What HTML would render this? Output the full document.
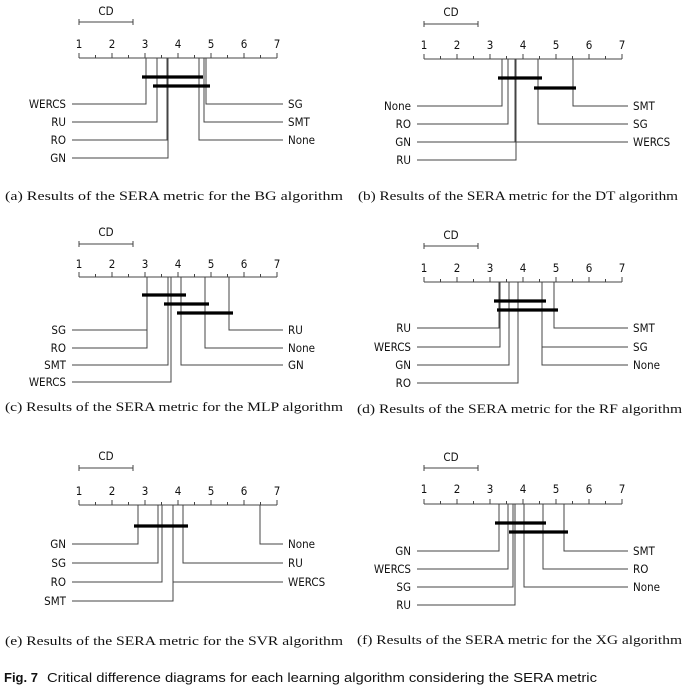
<!DOCTYPE html>
<html><head><meta charset="utf-8"><style>
html,body{margin:0;padding:0;background:#fff;width:691px;height:694px;overflow:hidden}
svg{display:block}
.lb{font-family:"DejaVu Sans Condensed","Liberation Sans Narrow","Liberation Sans",sans-serif;font-size:11.5px;fill:#111}
.cap{font-family:"Liberation Serif",serif;font-size:12.5px;fill:#111}
.g{stroke:#444;stroke-width:1;fill:none}
.b{stroke:#000;stroke-width:3.2}
</style></head><body>
<svg width="691" height="694" viewBox="0 0 691 694" xmlns="http://www.w3.org/2000/svg">
<defs>
<g id="ax">
<path class="g" d="M79 0H277 M79 0v-5 M112 0v-5 M145 0v-5 M178 0v-5 M211 0v-5 M244 0v-5 M277 0v-5 M95.5 0v-3 M128.5 0v-3 M161.5 0v-3 M194.5 0v-3 M227.5 0v-3 M260.5 0v-3"/>
</g>
<g id="ticks" class="lb" text-anchor="middle">
<text x="79" y="0">1</text><text x="112" y="0">2</text><text x="145" y="0">3</text><text x="178" y="0">4</text><text x="211" y="0">5</text><text x="244" y="0">6</text><text x="277" y="0">7</text>
</g>
</defs>

<!-- Panel a -->
<g>
<text class="lb" x="106" y="15" text-anchor="middle">CD</text>
<path class="g" d="M79 22H133M79 19v6M133 19v6"/>
<use href="#ticks" y="48"/>
<use href="#ax" y="58"/>
<path class="g" d="M146 58V104H72 M157 58V122H72 M167 58V140H72 M168 58V158H72 M206 58V104H283 M204 58V122H283 M199 58V140H283"/>
<line class="b" x1="142" y1="77" x2="203" y2="77"/><line class="b" x1="153" y1="86" x2="210" y2="86"/>
<g class="lb" text-anchor="end"><text x="66" y="108">WERCS</text><text x="66" y="126">RU</text><text x="66" y="144">RO</text><text x="66" y="162">GN</text></g>
<g class="lb"><text x="288" y="108">SG</text><text x="288" y="126">SMT</text><text x="288" y="144">None</text></g>
</g>

<!-- Panel b -->
<g transform="translate(345,0)">
<text class="lb" x="106" y="16" text-anchor="middle">CD</text>
<path class="g" d="M79 24H133M79 21v6M133 21v6"/>
<use href="#ticks" y="49"/>
<use href="#ax" y="59"/>
<path class="g" d="M157 59V106H72 M163 59V124H72 M170 59V142H72 M171 59V160H72 M228 59V106H283 M193 59V124H283 M170 59V142H283"/>
<line class="b" x1="153" y1="78" x2="197" y2="78"/><line class="b" x1="189" y1="88" x2="231" y2="88"/>
<g class="lb" text-anchor="end"><text x="66" y="110">None</text><text x="66" y="128">RO</text><text x="66" y="146">GN</text><text x="66" y="164">RU</text></g>
<g class="lb"><text x="288" y="110">SMT</text><text x="288" y="128">SG</text><text x="288" y="146">WERCS</text></g>
</g>

<text class="cap" x="5" y="200" textLength="338" lengthAdjust="spacingAndGlyphs">(a) Results of the SERA metric for the BG algorithm</text>
<text class="cap" x="358" y="200" textLength="320" lengthAdjust="spacingAndGlyphs">(b) Results of the SERA metric for the DT algorithm</text>

<!-- Panel c -->
<g>
<text class="lb" x="106" y="236" text-anchor="middle">CD</text>
<path class="g" d="M79 244H133M79 241v6M133 241v6"/>
<use href="#ticks" y="268"/>
<use href="#ax" y="277"/>
<path class="g" d="M147 277V330H72 M147 277V348H72 M168 277V365H72 M171 277V382H72 M229 277V330H283 M205 277V348H283 M181 277V365H283"/>
<line class="b" x1="142" y1="295" x2="186" y2="295"/><line class="b" x1="164" y1="304" x2="209" y2="304"/><line class="b" x1="177" y1="313" x2="233" y2="313"/>
<g class="lb" text-anchor="end"><text x="66" y="334">SG</text><text x="66" y="352">RO</text><text x="66" y="369">SMT</text><text x="66" y="386">WERCS</text></g>
<g class="lb"><text x="288" y="334">RU</text><text x="288" y="352">None</text><text x="288" y="369">GN</text></g>
</g>

<!-- Panel d -->
<g transform="translate(345,0)">
<text class="lb" x="106" y="239" text-anchor="middle">CD</text>
<path class="g" d="M79 246H133M79 243v6M133 243v6"/>
<use href="#ticks" y="272"/>
<use href="#ax" y="282"/>
<path class="g" d="M154 282V328H72 M155 282V347H72 M164 282V365H72 M173 282V383H72 M209 282V328H283 M197 282V347H283 M197 282V365H283"/>
<line class="b" x1="149" y1="301" x2="201" y2="301"/><line class="b" x1="152" y1="310" x2="213" y2="310"/>
<g class="lb" text-anchor="end"><text x="66" y="332">RU</text><text x="66" y="351">WERCS</text><text x="66" y="369">GN</text><text x="66" y="387">RO</text></g>
<g class="lb"><text x="288" y="332">SMT</text><text x="288" y="351">SG</text><text x="288" y="369">None</text></g>
</g>

<text class="cap" x="5" y="411" textLength="338" lengthAdjust="spacingAndGlyphs">(c) Results of the SERA metric for the MLP algorithm</text>
<text class="cap" x="357" y="413" textLength="325" lengthAdjust="spacingAndGlyphs">(d) Results of the SERA metric for the RF algorithm</text>

<!-- Panel e -->
<g>
<text class="lb" x="106" y="460" text-anchor="middle">CD</text>
<path class="g" d="M79 468H133M79 465v6M133 465v6"/>
<use href="#ticks" y="495"/>
<use href="#ax" y="505"/>
<path class="g" d="M138 505V544H72 M158 505V563H72 M162 505V582H72 M173 505V601H72 M260 505V544H283 M183 505V563H283 M173 505V582H283"/>
<line class="b" x1="134" y1="526" x2="188" y2="526"/>
<g class="lb" text-anchor="end"><text x="66" y="548">GN</text><text x="66" y="567">SG</text><text x="66" y="586">RO</text><text x="66" y="605">SMT</text></g>
<g class="lb"><text x="288" y="548">None</text><text x="288" y="567">RU</text><text x="288" y="586">WERCS</text></g>
</g>

<!-- Panel f -->
<g transform="translate(345,0)">
<text class="lb" x="106" y="461" text-anchor="middle">CD</text>
<path class="g" d="M79 468H133M79 465v6M133 465v6"/>
<use href="#ticks" y="493"/>
<use href="#ax" y="504"/>
<path class="g" d="M154 504V551H72 M163 504V569H72 M168 504V587H72 M170 504V605H72 M219 504V551H283 M198 504V569H283 M179 504V587H283"/>
<line class="b" x1="150" y1="523" x2="201" y2="523"/><line class="b" x1="164" y1="532" x2="223" y2="532"/>
<g class="lb" text-anchor="end"><text x="66" y="555">GN</text><text x="66" y="573">WERCS</text><text x="66" y="591">SG</text><text x="66" y="609">RU</text></g>
<g class="lb"><text x="288" y="555">SMT</text><text x="288" y="573">RO</text><text x="288" y="591">None</text></g>
</g>

<text class="cap" x="5" y="645" textLength="338" lengthAdjust="spacingAndGlyphs">(e) Results of the SERA metric for the SVR algorithm</text>
<text class="cap" x="357" y="644" textLength="325" lengthAdjust="spacingAndGlyphs">(f) Results of the SERA metric for the XG algorithm</text>

<text x="4" y="682" style="font-family:'Liberation Sans',sans-serif;font-size:13px;font-weight:bold;fill:#111">Fig. 7</text>
<text x="47" y="682" textLength="550" lengthAdjust="spacingAndGlyphs" style="font-family:'Liberation Sans',sans-serif;font-size:13px;fill:#111">Critical difference diagrams for each learning algorithm considering the SERA metric</text>
</svg>
</body></html>
